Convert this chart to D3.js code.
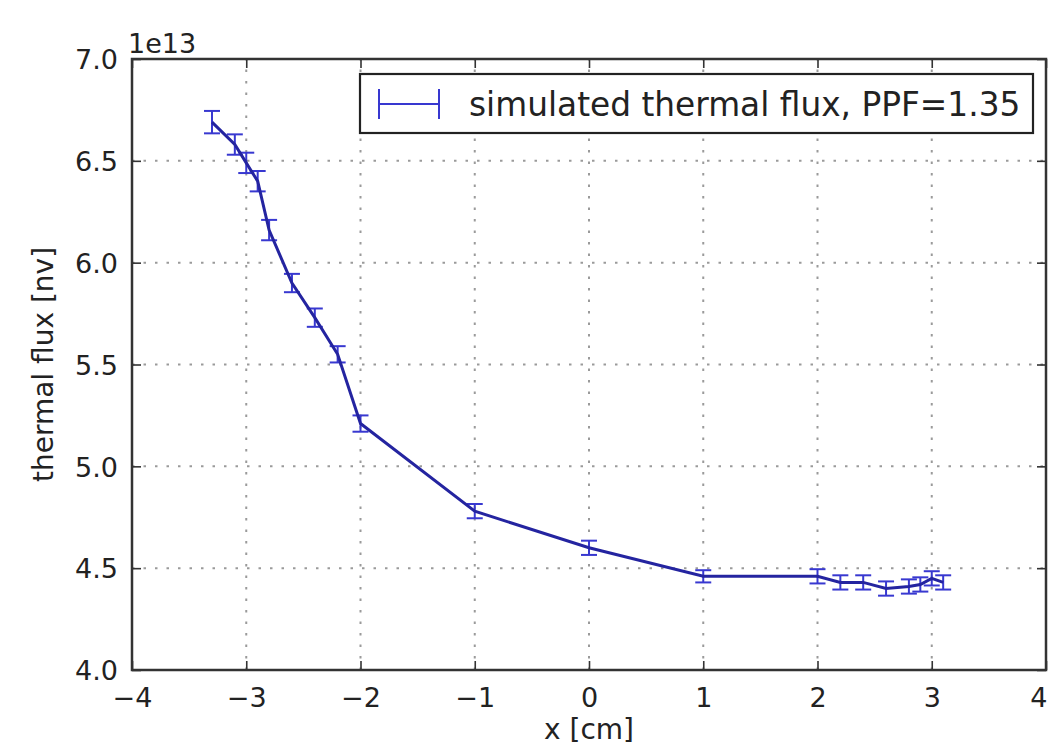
<!DOCTYPE html>
<html><head><meta charset="utf-8">
<script src="https://cdn.jsdelivr.net/npm/d3@7"></script>
<style>body{margin:0;background:#fff}svg{display:block}text{font-family:"DejaVu Sans",sans-serif;fill:#222}</style>
</head><body><svg id="c" width="1048" height="749"></svg>
<script>
const xValues = [-3.3, -3.1, -3.0, -2.9, -2.8, -2.6, -2.4, -2.2, -2.0, -1.0, 0.0, 1.0, 2.0, 2.2, 2.4, 2.6, 2.8, 2.9, 3.0, 3.1];
const fluxValues = [6.69, 6.58, 6.49, 6.40, 6.16, 5.90, 5.73, 5.55, 5.21, 4.78, 4.60, 4.46, 4.46, 4.43, 4.43, 4.40, 4.41, 4.42, 4.45, 4.43];
const fluxErrors = [0.055, 0.05, 0.05, 0.05, 0.05, 0.045, 0.045, 0.04, 0.04, 0.035, 0.035, 0.03, 0.035, 0.035, 0.035, 0.035, 0.035, 0.035, 0.035, 0.035];
const xTicks = [-4, -3, -2, -1, 0, 1, 2, 3, 4];
const xTickLabels = ["\u22124", "\u22123", "\u22122", "\u22121", "0", "1", "2", "3", "4"];
const yTicks = [4.0, 4.5, 5.0, 5.5, 6.0, 6.5, 7.0];
const yTickLabels = ["4.0", "4.5", "5.0", "5.5", "6.0", "6.5", "7.0"];
const legendLabel = "simulated thermal flux, PPF=1.35";

const L = 132, R = 1046, T = 59, B = 670;
const svg = d3.select("#c");
const x = d3.scaleLinear().domain([-4, 4]).range([L, R]);
const y = d3.scaleLinear().domain([4, 7]).range([B, T]);

// grid
const grid = svg.append("g").attr("stroke", "#9a9a9a").attr("stroke-width", 2).attr("stroke-dasharray", "2.5,9");
grid.selectAll(".gx").data(xTicks.slice(1, -1)).enter().append("line")
  .attr("x1", d => x(d)).attr("x2", d => x(d)).attr("y1", B).attr("y2", T);
grid.selectAll(".gy").data(yTicks.slice(1, -1)).enter().append("line")
  .attr("y1", d => y(d)).attr("y2", d => y(d)).attr("x1", L).attr("x2", R);

// axes with inward ticks
const fs = 27;
const axB = svg.append("g").attr("transform", `translate(0,${B})`)
  .call(d3.axisBottom(x).tickValues(xTicks).tickFormat((d, i) => xTickLabels[i]).tickSizeInner(-9).tickSizeOuter(0).tickPadding(18));
const axT = svg.append("g").attr("transform", `translate(0,${T})`)
  .call(d3.axisTop(x).tickValues(xTicks).tickFormat("").tickSizeInner(-9).tickSizeOuter(0));
const axL = svg.append("g").attr("transform", `translate(${L},0)`)
  .call(d3.axisLeft(y).tickValues(yTicks).tickFormat((d, i) => yTickLabels[i]).tickSizeInner(-9).tickSizeOuter(0).tickPadding(14));
const axR = svg.append("g").attr("transform", `translate(${R},0)`)
  .call(d3.axisRight(y).tickValues(yTicks).tickFormat("").tickSizeInner(-9).tickSizeOuter(0));
[axB, axT, axL, axR].forEach(a => {
  a.select(".domain").remove();
  a.selectAll(".tick line").attr("stroke", "#333").attr("stroke-width", 1.6);
  a.selectAll("text").attr("font-size", fs).attr("font-family", "DejaVu Sans").attr("fill", "#222");
});
axL.selectAll("text").attr("dy", "0.36em");
// last x tick label sits at the picture edge: keep it visible
axB.selectAll(".tick text").filter(d => d === 4).attr("text-anchor", "end").attr("x", 1047 - x(4));

// frame
svg.append("rect").attr("x", L).attr("y", T).attr("width", R - L).attr("height", B - T)
  .attr("fill", "none").attr("stroke", "#333").attr("stroke-width", 2.5);

// offset text
svg.append("text").attr("x", 128).attr("y", 53).attr("font-size", fs).text("1e13");

// axis labels
svg.append("text").attr("x", x(0)).attr("y", 739).attr("text-anchor", "middle").attr("font-size", 28).text("x [cm]");
svg.append("text").attr("transform", `translate(53,${(T + B) / 2}) rotate(-90)`).attr("text-anchor", "middle").attr("font-size", 28).text("thermal flux [nv]");

// data
const pts = xValues.map((v, i) => ({x: v, y: fluxValues[i], e: fluxErrors[i]}));
const eb = svg.append("g").attr("stroke", "#3838d0").attr("stroke-width", 2);
eb.selectAll(".v").data(pts).enter().append("line")
  .attr("x1", d => x(d.x)).attr("x2", d => x(d.x)).attr("y1", d => y(d.y - d.e)).attr("y2", d => y(d.y + d.e));
eb.selectAll(".c1").data(pts).enter().append("line")
  .attr("x1", d => x(d.x) - 8).attr("x2", d => x(d.x) + 8).attr("y1", d => y(d.y - d.e)).attr("y2", d => y(d.y - d.e));
eb.selectAll(".c2").data(pts).enter().append("line")
  .attr("x1", d => x(d.x) - 8).attr("x2", d => x(d.x) + 8).attr("y1", d => y(d.y + d.e)).attr("y2", d => y(d.y + d.e));
svg.append("path").datum(pts).attr("fill", "none").attr("stroke", "#2424a0").attr("stroke-width", 3)
  .attr("d", d3.line().x(d => x(d.x)).y(d => y(d.y)));

// legend
const lg = svg.append("g");
lg.append("rect").attr("x", 360).attr("y", 74).attr("width", 673).attr("height", 59)
  .attr("fill", "#fff").attr("stroke", "#222").attr("stroke-width", 2.2);
const ly = 104;
lg.append("line").attr("x1", 379).attr("x2", 439).attr("y1", ly).attr("y2", ly).attr("stroke", "#3838d0").attr("stroke-width", 2);
[379, 439].forEach(cx => {
  lg.append("line").attr("x1", cx).attr("x2", cx).attr("y1", ly - 15).attr("y2", ly + 15).attr("stroke", "#3838d0").attr("stroke-width", 2);
});
lg.append("text").attr("x", 469).attr("y", ly + 12).attr("font-size", 32.8).text(legendLabel);
</script></body></html>
